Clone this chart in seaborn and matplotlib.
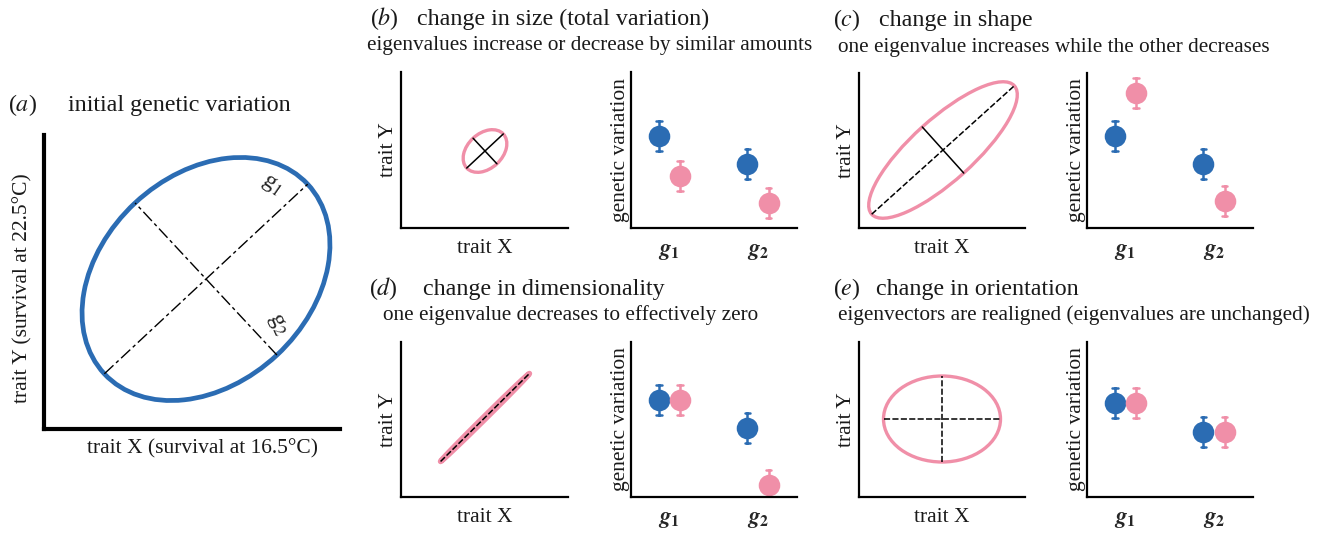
import numpy as np
import pandas as pd
import matplotlib
matplotlib.use("Agg")
import matplotlib.pyplot as plt
from matplotlib.patches import Ellipse
import seaborn as sns

sns.set_theme(style="white")
plt.rcParams['font.family'] = ['Liberation Serif', 'DejaVu Serif']
plt.rcParams['mathtext.fontset'] = 'stix'

BLUE = '#2b6cb3'
PINK = '#f08fa8'

# eigenvalues (arbitrary units, 0 = axis)
eigvecs = ['g1', 'g2']
stages = ['initial', 'changed']
size_initial = [92, 64]
size_changed = [52, 25]
shape_initial = [92, 64]
shape_changed = [135, 27]
dim_initial = [97, 69]
dim_changed = [97, 12]
orient_initial = [94, 65]
orient_changed = [94, 65]
err_half = 15

# ellipses: centre x, centre y, width, height, angle (deg)
ell_initial = [162, 150, 278, 208, 43]
ell_size = [84, 77, 50, 35, 43]
ell_shape = [84, 78, 192, 62, 42]
ell_dim = [84, 79.5, 125, 2.5, 44.7]
ell_orient = [83, 78, 117, 86, 0]

W, H = 1325, 533
fig = plt.figure(figsize=(W / 100, H / 100), dpi=100)


def box(x0, y0, x1, y1):
    return [x0 / W, 1 - y1 / H, (x1 - x0) / W, (y1 - y0) / H]


def ftext(x, y, s, **kw):
    fig.text(x / W, 1 - y / H, s, va='baseline', ha='left', color='#1a1a1a', **kw)


def clean(ax, lw):
    sns.despine(ax=ax)
    for sp in ['left', 'bottom']:
        ax.spines[sp].set_linewidth(lw)
        ax.spines[sp].set_color('black')
    ax.set_xticks([])
    ax.set_yticks([])


def draw_ellipse(ax, e, color, lw, major_style, minor_style, line_lw):
    cx, cy, w, h, ang = e
    ax.add_patch(Ellipse((cx, cy), w, h, angle=ang, fill=False, edgecolor=color, lw=lw,
                         joinstyle='round', zorder=2))
    t = np.deg2rad(ang)
    mx, my = w / 2 * np.cos(t), w / 2 * np.sin(t)
    nx, ny = -h / 2 * np.sin(t), h / 2 * np.cos(t)
    if major_style is not None:
        ax.plot([cx - mx, cx + mx], [cy - my, cy + my], color='black', lw=line_lw,
                zorder=3, **major_style)
    if minor_style is not None:
        ax.plot([cx - nx, cx + nx], [cy - ny, cy + ny], color='black', lw=line_lw,
                zorder=3, **minor_style)


def trait_axes(rect, e, major_style, minor_style, ell_lw=2.4):
    ax = fig.add_axes(box(*rect))
    ax.set_xlim(0, rect[2] - rect[0])
    ax.set_ylim(0, rect[3] - rect[1])
    clean(ax, 1.6)
    draw_ellipse(ax, e, PINK, ell_lw, major_style, minor_style, 1.1)
    ax.set_xlabel('trait X', fontsize=15.5, labelpad=8, color='#1a1a1a')
    ax.set_ylabel('trait Y', fontsize=15.5, labelpad=2, color='#1a1a1a')
    return ax


def eig_axes(rect, initial, changed):
    ax = fig.add_axes(box(*rect))
    rows = []
    for stage, vals in zip(stages, [initial, changed]):
        for g, v in zip(eigvecs, vals):
            for d in (-err_half, 0, err_half):
                rows.append({'eigvec': g, 'stage': stage, 'value': v + d})
    df = pd.DataFrame(rows)
    sns.pointplot(data=df, x='eigvec', y='value', hue='stage', order=eigvecs,
                  hue_order=stages, palette=[BLUE, PINK], estimator='mean',
                  errorbar=('pi', 100), dodge=0.24, linestyle='none', markers='o',
                  markersize=13.5, capsize=0.06, err_kws={'linewidth': 1.8},
                  legend=False, ax=ax)
    ax.set_xlim(-0.435, 1.44)
    ax.set_ylim(0, rect[3] - rect[1])
    clean(ax, 1.6)
    ax.set_xticks([0, 1])
    ax.set_xticklabels([r'$\mathbfit{g}_{\mathbf{1}}$', r'$\mathbfit{g}_{\mathbf{2}}$'],
                       fontsize=16.5)
    ax.tick_params(axis='x', length=0, pad=9)
    ax.set_xlabel('')
    ax.set_ylabel('genetic variation', fontsize=15.5, labelpad=1, color='#1a1a1a')
    return ax


# (a) initial genetic variation
ax_a = fig.add_axes(box(44, 135, 340, 429))
ax_a.set_xlim(0, 296)
ax_a.set_ylim(0, 294)
clean(ax_a, 3.0)
draw_ellipse(ax_a, ell_initial, BLUE, 3.4, {'dashes': (9, 2.5, 2.5, 2.5)},
             {'dashes': (9, 2.5, 2.5, 2.5)}, 1.0)
ax_a.text(228, 244, r'g$_1$', fontsize=17, rotation=-35, ha='center', va='center')
ax_a.text(233, 104, r'g$_2$', fontsize=17, rotation=-65, ha='center', va='center')
ax_a.set_xlabel('trait X (survival at 16.5°C)', fontsize=15.5, color='#1a1a1a')
ax_a.xaxis.set_label_coords(0.535, -0.035)
ax_a.xaxis.label.set_va('top')
ax_a.set_ylabel('trait Y (survival at 22.5°C)', fontsize=15.5, color='#1a1a1a')
ax_a.yaxis.set_label_coords(-0.04, 0.48)
ftext(8, 111, r'($\mathit{a}$)', fontsize=17.3)
ftext(68, 111, 'initial genetic variation', fontsize=17.3)

# (b) change in size
trait_axes((401, 72, 568, 228), ell_size, {}, {})
eig_axes((631, 72, 797, 228), size_initial, size_changed)
ftext(370, 25, r'($\mathit{b}$)', fontsize=17.3)
ftext(417, 25, 'change in size (total variation)', fontsize=17.3)
ftext(367, 50, 'eigenvalues increase or decrease by similar amounts', fontsize=15.3)

# (c) change in shape
trait_axes((859, 73, 1025, 228), ell_shape, {'dashes': (4, 1.5)}, {})
eig_axes((1087, 73, 1253, 228), shape_initial, shape_changed)
ftext(833, 26, r'($\mathit{c}$)', fontsize=17.3)
ftext(879, 26, 'change in shape', fontsize=17.3)
ftext(838, 52, 'one eigenvalue increases while the other decreases', fontsize=15.3)

# (d) change in dimensionality
trait_axes((401, 342, 568, 497), ell_dim, {'dashes': (4, 1.5)}, None, ell_lw=4.0)
eig_axes((631, 342, 797, 497), dim_initial, dim_changed)
ftext(369, 295, r'($\mathit{d}$)', fontsize=17.3)
ftext(423, 295, 'change in dimensionality', fontsize=17.3)
ftext(383, 320, 'one eigenvalue decreases to effectively zero', fontsize=15.3)

# (e) change in orientation
trait_axes((859, 342, 1025, 497), ell_orient, {'dashes': (4, 1.5)}, {'dashes': (4, 1.5)})
eig_axes((1087, 342, 1253, 497), orient_initial, orient_changed)
ftext(833, 295, r'($\mathit{e}$)', fontsize=17.3)
ftext(876, 295, 'change in orientation', fontsize=17.3)
ftext(838, 320, 'eigenvectors are realigned (eigenvalues are unchanged)', fontsize=15.3)

fig.savefig('out.png', dpi=100, facecolor='white')
